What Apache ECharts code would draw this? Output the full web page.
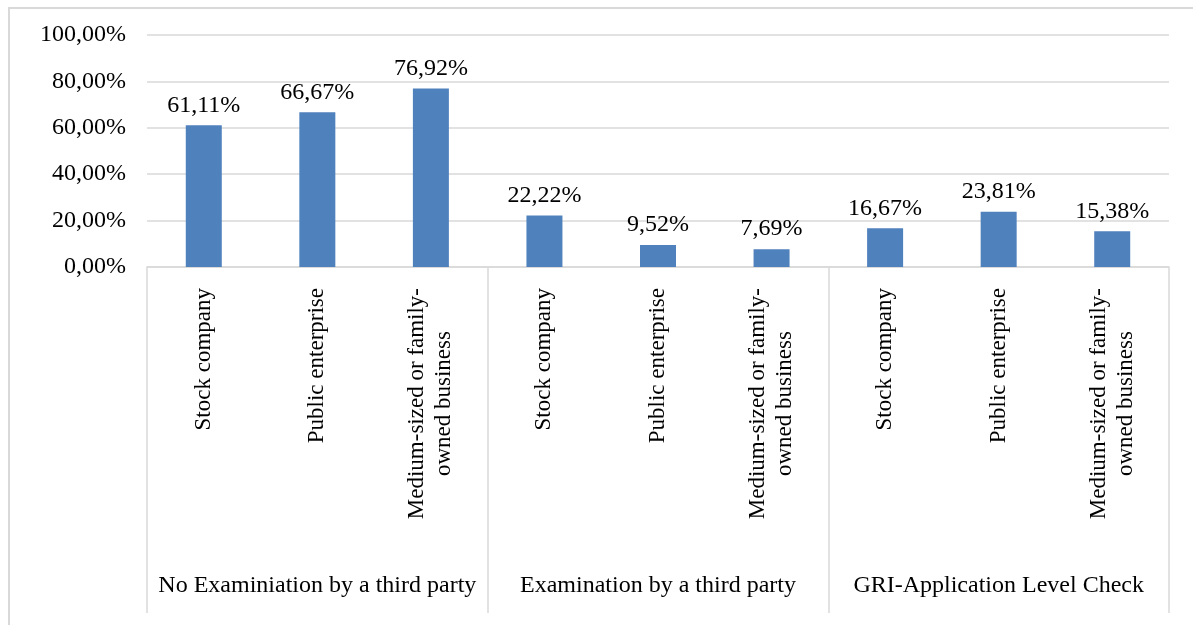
<!DOCTYPE html>
<html>
<head>
<meta charset="utf-8">
<script src="https://cdn.jsdelivr.net/npm/echarts@6/dist/echarts.min.js"></script>
<style>
html,body{margin:0;padding:0;background:#fff;}
#frame{position:absolute;left:8px;top:7px;width:1200px;height:640px;border-left:2px solid #D9D9D9;border-top:2px solid #D9D9D9;box-sizing:border-box;}
#chart{position:absolute;left:0;top:0;width:1193px;height:625px;}
</style>
</head>
<body>
<div id="frame"></div>
<div id="chart"></div>
<script>
var groups = ['No Examiniation by a third party', 'Examination by a third party', 'GRI-Application Level Check'];
var categories = [
  'Stock company', 'Public enterprise', 'Medium-sized or family-\nowned business',
  'Stock company', 'Public enterprise', 'Medium-sized or family-\nowned business',
  'Stock company', 'Public enterprise', 'Medium-sized or family-\nowned business'
];
var values = [61.11, 66.67, 76.92, 22.22, 9.52, 7.69, 16.67, 23.81, 15.38];
var yTicks = { min: 0, max: 100, interval: 20 };

var FONT = 'Liberation Serif';
function pct(v) { return v.toFixed(2).replace('.', ',') + '%'; }

var chart = echarts.init(document.getElementById('chart'), null, { renderer: 'canvas' });
chart.setOption({
  animation: false,
  backgroundColor: 'transparent',
  grid: { left: 147, right: 24, top: 35, bottom: 358, containLabel: false },
  xAxis: [
    {
      type: 'category',
      data: categories,
      boundaryGap: true,
      axisLine: { show: true, lineStyle: { color: '#D9D9D9', width: 1.5 } },
      axisTick: { show: false },
      axisLabel: {
        interval: 0,
        rotate: 90,
        margin: 21,
        color: '#000',
        fontFamily: FONT,
        fontSize: 23,
        formatter: function (v) {
          return v.split('\n').map(function (s) { return '{c|' + s + '}'; }).join('\n');
        },
        rich: { c: { align: 'center', fontFamily: FONT, fontSize: 23, color: '#000', lineHeight: 27 } }
      },
      splitLine: { show: false }
    },
    {
      type: 'category',
      data: groups,
      position: 'bottom',
      offset: 346,
      boundaryGap: true,
      axisLine: { show: false },
      axisTick: { show: true, inside: true, length: 346, lineStyle: { color: '#D9D9D9', width: 1.5 } },
      axisLabel: {
        interval: 0,
        inside: true,
        margin: 15,
        color: '#000',
        fontFamily: FONT,
        fontSize: 24
      },
      splitLine: { show: false }
    }
  ],
  yAxis: {
    type: 'value',
    min: yTicks.min,
    max: yTicks.max,
    interval: yTicks.interval,
    axisLine: { show: false },
    axisTick: { show: false },
    splitLine: { show: true, lineStyle: { color: '#D9D9D9', width: 1.5 } },
    axisLabel: {
      margin: 21,
      color: '#000',
      fontFamily: FONT,
      fontSize: 24,
      formatter: function (v) { return pct(v); }
    }
  },
  series: [{
    type: 'bar',
    xAxisIndex: 0,
    data: values,
    barWidth: 36,
    itemStyle: { color: '#4F81BD' },
    label: {
      show: true,
      position: 'top',
      distance: 8,
      color: '#000',
      fontFamily: FONT,
      fontSize: 24,
      formatter: function (p) { return pct(p.value); }
    }
  }]
});
</script>
</body>
</html>
